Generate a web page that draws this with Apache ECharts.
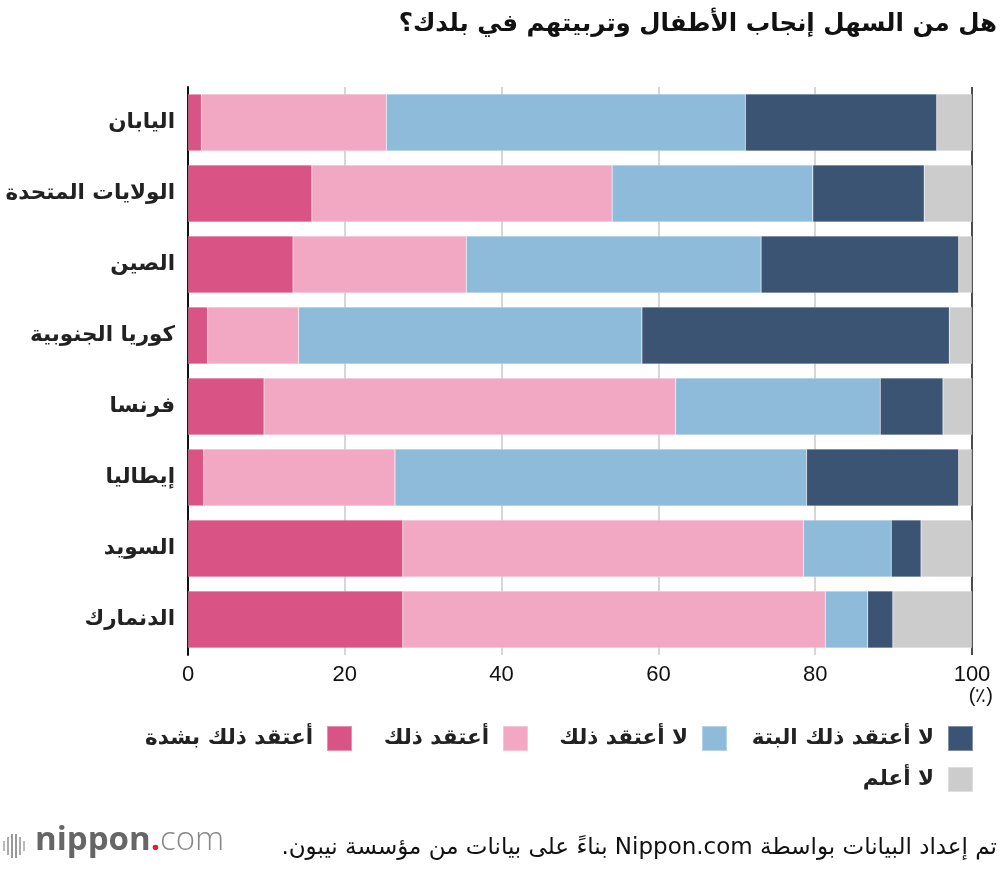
<!DOCTYPE html>
<html>
<head>
<meta charset="utf-8">
<script src="https://cdn.jsdelivr.net/npm/echarts@6/dist/echarts.min.js"></script>
<style>html,body{margin:0;padding:0;background:#fff}#c{width:1000px;height:870px}</style>
</head>
<body>
<div id="c"></div>
<script>
const countries = ['اليابان','الولايات المتحدة','الصين','كوريا الجنوبية','فرنسا','إيطاليا','السويد','الدنمارك'];
const seriesNames = ['أعتقد ذلك بشدة','أعتقد ذلك','لا أعتقد ذلك','لا أعتقد ذلك البتة','لا أعلم'];
const stronglyAgree    = [1.7, 15.8, 13.4, 2.5, 9.7, 2.0, 27.4, 27.4];
const agree            = [23.6, 38.3, 22.1, 11.6, 52.5, 24.4, 51.1, 53.9];
const disagree         = [45.8, 25.6, 37.6, 43.8, 26.1, 52.5, 11.2, 5.4];
const stronglyDisagree = [24.4, 14.2, 25.2, 39.2, 8.0, 19.4, 3.8, 3.2];
const dontKnow         = [4.5, 6.1, 1.7, 2.9, 3.7, 1.7, 6.5, 10.1];
const xTicks = [0, 20, 40, 60, 80, 100];
const title = 'هل من السهل إنجاب الأطفال وتربيتهم في بلدك؟';
const footer = 'تم إعداد البيانات بواسطة Nippon.com بناءً على بيانات من مؤسسة نيبون.';
const unitLabel = '(٪)';

const colors = ['#d95485','#f2a8c3','#8fbbdb','#3b5473','#cccccc'];
const values = [stronglyAgree, agree, disagree, stronglyDisagree, dontKnow];
const arabicFont = 'DejaVu Sans';
const RLE = '\u202B', PDF = '\u202C';

const chart = echarts.init(document.getElementById('c'));

const legendPos = [
  {right: 647, top: 725},
  {right: 471, top: 725},
  {right: 272, top: 725},
  {right: 26, top: 725},
  {right: 26, top: 766}
];
const legends = seriesNames.map((n, i) => ({
  data: [n],
  right: legendPos[i].right,
  top: legendPos[i].top,
  align: 'right',
  itemWidth: 25,
  itemHeight: 25,
  icon: 'rect',
  selectedMode: false,
  padding: 0,
  textStyle: {fontFamily: arabicFont, fontWeight: 'bold', fontSize: 21.5, color: '#222', padding: [0, 9, 0, 0]}
}));

const gridColors = xTicks.map((t, i) => (i === 0 || i === xTicks.length - 1) ? '#111' : '#c8c8c8');

chart.setOption({
  animation: false,
  title: {
    text: title,
    right: 3,
    top: 12,
    padding: 0,
    textStyle: {fontFamily: arabicFont, fontWeight: 'bold', fontSize: 24.5, color: '#111'}
  },
  legend: legends,
  grid: {left: 188, right: 28, top: 87, bottom: 215, containLabel: false},
  xAxis: {
    type: 'value',
    min: 0, max: 100, interval: 20,
    axisLine: {show: false},
    axisTick: {show: false},
    splitLine: {show: true, lineStyle: {color: gridColors, width: 1.5}},
    axisLabel: {fontFamily: 'Liberation Sans', fontSize: 22, color: '#111', margin: 9}
  },
  yAxis: {
    type: 'category',
    data: countries,
    inverse: true,
    axisLine: {show: true, lineStyle: {color: '#111', width: 2}},
    axisTick: {show: false},
    axisLabel: {fontFamily: arabicFont, fontWeight: 'bold', fontSize: 21.5, color: '#222', margin: 13}
  },
  series: seriesNames.map((n, i) => ({
    name: n,
    type: 'bar',
    stack: 'total',
    barWidth: '80%',
    data: values[i],
    itemStyle: {color: colors[i], borderColor: 'rgba(255,255,255,0.35)', borderWidth: 0.5},
    z: 3
  })),
  graphic: [
    {type: 'text', right: 7, top: 686, style: {text: unitLabel, font: '20px "Liberation Sans"', fill: '#111'}},
    {type: 'text', right: 3, top: 837, style: {text: RLE + footer + PDF, font: '23px "DejaVu Sans"', fill: '#111'}},
    {type: 'group', left: 3, top: 834, children: [
      {type: 'rect', shape: {x: 0, y: 9, width: 2, height: 10}, style: {fill: '#bbb'}},
      {type: 'rect', shape: {x: 4, y: 5, width: 2, height: 18}, style: {fill: '#aaa'}},
      {type: 'rect', shape: {x: 8, y: 2, width: 2, height: 24}, style: {fill: '#999'}},
      {type: 'rect', shape: {x: 12, y: 2, width: 2, height: 24}, style: {fill: '#999'}},
      {type: 'rect', shape: {x: 16, y: 5, width: 2, height: 18}, style: {fill: '#aaa'}},
      {type: 'rect', shape: {x: 20, y: 9, width: 2, height: 10}, style: {fill: '#bbb'}}
    ]},
    {type: 'text', left: 35, top: 824, style: {
      text: '{a|nippon}{b|.}{c|com}',
      fill: '#666',
      rich: {
        a: {fontFamily: 'Open Sans', fontWeight: 'bold', fontSize: 33, fill: '#666'},
        b: {fontFamily: 'Open Sans', fontWeight: 'bold', fontSize: 33, fill: '#e0202a'},
        c: {fontFamily: 'Open Sans', fontWeight: 300, fontSize: 33, fill: '#888'}
      }
    }}
  ]
});
</script>
</body>
</html>
